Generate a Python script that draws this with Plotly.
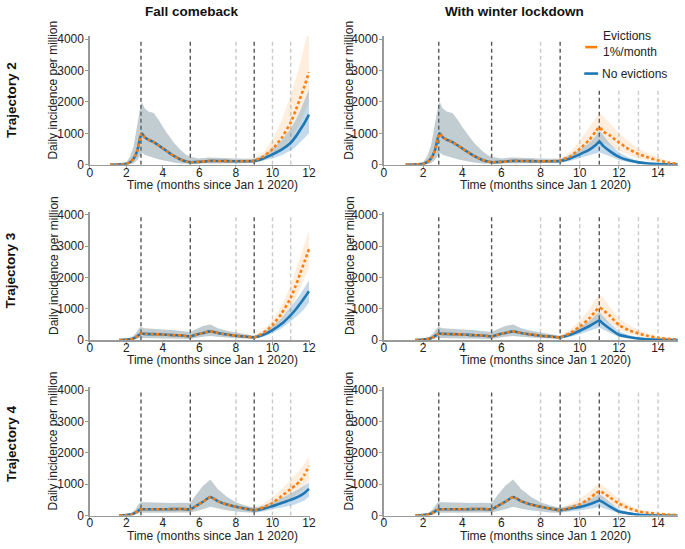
import plotly.graph_objects as go

# ---------------- data ----------------
# shared early part (identical for both scenarios and both eviction settings)
t_early_2 = [1.1, 1.5, 2.0, 2.2, 2.4, 2.6, 2.75, 2.85, 3.0, 3.2, 3.5, 3.8, 4.0, 4.3, 4.6, 5.0, 5.3, 5.5, 6.0, 6.5, 7.0, 7.5, 8.0, 8.5]
traj2_mean = [0, 5, 30, 80, 200, 450, 850, 1000, 880, 800, 720, 600, 520, 400, 280, 160, 100, 80, 90, 120, 120, 115, 110, 110]
traj2_hi = [0, 15, 80, 250, 600, 1300, 1800, 2000, 1800, 1700, 1650, 1400, 1200, 950, 700, 450, 300, 250, 200, 230, 220, 200, 190, 190]
traj2_lo = [0, 0, 5, 15, 50, 150, 300, 380, 320, 280, 220, 170, 140, 100, 70, 40, 30, 30, 40, 50, 50, 50, 50, 50]

t_early_34 = [1.6, 2.0, 2.3, 2.5, 2.7, 2.8, 3.0, 3.5, 4.0, 4.5, 5.0, 5.5, 5.8, 6.2, 6.6, 7.0, 7.5, 8.0, 8.5]
traj3_mean = [0, 15, 40, 90, 170, 210, 200, 190, 180, 160, 150, 120, 170, 230, 280, 230, 180, 140, 115]
traj3_hi = [0, 40, 100, 200, 380, 420, 380, 350, 340, 320, 300, 260, 350, 450, 500, 380, 300, 240, 180]
traj3_lo = [0, 3, 10, 30, 70, 90, 80, 70, 60, 50, 45, 40, 70, 110, 130, 110, 80, 60, 50]
traj4_mean = [0, 15, 40, 90, 170, 200, 200, 200, 200, 205, 210, 200, 300, 440, 590, 460, 350, 280, 220]
traj4_hi = [0, 40, 100, 200, 380, 420, 420, 410, 400, 400, 410, 400, 650, 950, 1150, 850, 600, 420, 320]
traj4_lo = [0, 3, 10, 30, 70, 90, 100, 100, 100, 100, 100, 100, 130, 200, 280, 220, 170, 130, 100]

# "Fall comeback" late part
t_fall = [9.0, 9.5, 10.0, 10.5, 11.0, 11.25, 11.5, 11.75, 12.0]
fall2_blue = [120, 200, 330, 480, 700, 880, 1100, 1330, 1600]
fall2_blue_hi = [200, 300, 500, 780, 1150, 1400, 1700, 2050, 2400]
fall2_blue_lo = [60, 120, 200, 300, 450, 560, 700, 850, 1000]
fall2_orange = [130, 260, 500, 850, 1350, 1700, 2100, 2500, 2950]
fall2_orange_hi = [200, 400, 800, 1400, 2200, 2700, 3200, 3800, 4400]
fall2_orange_lo = [60, 150, 300, 500, 800, 1050, 1300, 1650, 2000]

fall3_blue = [90, 170, 320, 520, 800, 960, 1150, 1350, 1560]
fall3_blue_hi = [140, 250, 450, 700, 1050, 1250, 1450, 1680, 1900]
fall3_blue_lo = [45, 110, 220, 380, 600, 720, 850, 1000, 1200]
fall3_orange = [90, 230, 480, 850, 1350, 1700, 2100, 2500, 2900]
fall3_orange_hi = [140, 320, 650, 1100, 1750, 2200, 2650, 3100, 3500]
fall3_orange_lo = [45, 150, 330, 600, 1000, 1300, 1600, 1950, 2300]

fall4_blue = [170, 220, 300, 400, 500, 560, 630, 720, 850]
fall4_blue_hi = [250, 320, 430, 560, 700, 780, 860, 950, 1050]
fall4_blue_lo = [90, 130, 180, 250, 320, 360, 410, 480, 600]
fall4_orange = [170, 260, 400, 620, 850, 960, 1100, 1300, 1580]
fall4_orange_hi = [250, 380, 580, 850, 1150, 1300, 1450, 1650, 1900]
fall4_orange_lo = [90, 160, 250, 400, 550, 650, 750, 900, 1150]

# "With winter lockdown" late part
t_lock = [9.0, 9.5, 10.0, 10.5, 10.8, 11.0, 11.2, 11.5, 12.0, 12.5, 13.0, 13.5, 14.0, 14.5, 15.0]
lock2_blue = [120, 200, 330, 480, 620, 740, 600, 450, 250, 140, 75, 40, 20, 10, 5]
lock2_blue_hi = [200, 300, 480, 700, 900, 1100, 950, 700, 400, 230, 120, 70, 40, 20, 10]
lock2_blue_lo = [60, 120, 200, 300, 360, 400, 350, 280, 150, 80, 40, 20, 10, 5, 2]
lock2_orange = [130, 260, 500, 800, 1050, 1200, 1060, 950, 710, 500, 340, 230, 140, 70, 25]
lock2_orange_hi = [200, 400, 750, 1200, 1500, 1650, 1550, 1350, 1000, 750, 520, 360, 230, 120, 50]
lock2_orange_lo = [60, 150, 300, 450, 600, 750, 700, 620, 450, 320, 200, 130, 80, 35, 10]

lock3_blue = [90, 170, 300, 450, 560, 630, 520, 380, 170, 100, 50, 30, 15, 8, 4]
lock3_blue_hi = [140, 250, 420, 620, 780, 900, 760, 560, 280, 160, 90, 50, 28, 14, 7]
lock3_blue_lo = [45, 100, 190, 290, 360, 400, 330, 240, 100, 55, 28, 14, 6, 3, 1]
lock3_orange = [90, 220, 430, 700, 920, 1040, 960, 800, 480, 320, 210, 130, 75, 40, 20]
lock3_orange_hi = [140, 330, 620, 1000, 1300, 1450, 1350, 1100, 700, 480, 320, 200, 120, 60, 30]
lock3_orange_lo = [45, 140, 280, 450, 600, 700, 640, 540, 320, 210, 130, 80, 45, 22, 10]

lock4_blue = [170, 220, 270, 360, 430, 480, 420, 300, 130, 70, 25, 12, 6, 3, 2]
lock4_blue_hi = [250, 320, 390, 520, 620, 680, 600, 440, 200, 110, 45, 22, 10, 5, 3]
lock4_blue_lo = [90, 130, 160, 210, 250, 280, 240, 170, 70, 35, 12, 6, 3, 1, 1]
lock4_orange = [170, 250, 360, 540, 700, 780, 720, 600, 380, 240, 130, 85, 55, 30, 15]
lock4_orange_hi = [250, 360, 520, 770, 950, 1020, 950, 800, 520, 340, 200, 130, 80, 45, 20]
lock4_orange_lo = [90, 150, 220, 330, 430, 500, 460, 380, 240, 150, 80, 50, 30, 15, 6]

# event lines (months)
fall_dark_lines = [2.8, 5.5, 9]
fall_light_lines = [8, 10, 11]
lock_dark_lines = [2.8, 5.5, 9, 11]
lock_light_lines = [8, 10, 12, 13, 14]

col_titles = ["Fall comeback", "With winter lockdown"]
row_titles = ["Trajectory 2", "Trajectory 3", "Trajectory 4"]
y_ticks = [0, 1000, 2000, 3000, 4000]
x_title = "Time (months since Jan 1 2020)"
y_title = "Daily incidence per million"
legend_labels = ["Evictions<br>1%/month", "No evictions"]

# ---------------- figure ----------------
W, H = 685, 549
FONT = "Liberation Sans, Arial, sans-serif"
BLUE = "#1f77b4"
ORANGE = "#ff7f0e"
BLUE_FILL = "rgba(31,119,180,0.27)"
ORANGE_FILL = "rgba(255,127,14,0.14)"
AX = "#9a9a9a"
DARK = "#555555"
LIGHT = "#c9c9c9"


def px(x):
    return x / W


def py(y):
    return 1 - y / H


early = [
    (t_early_2, traj2_mean, traj2_hi, traj2_lo),
    (t_early_34, traj3_mean, traj3_hi, traj3_lo),
    (t_early_34, traj4_mean, traj4_hi, traj4_lo),
]
late = {
    (0, 0): (t_fall, fall2_blue, fall2_blue_hi, fall2_blue_lo, fall2_orange, fall2_orange_hi, fall2_orange_lo),
    (1, 0): (t_fall, fall3_blue, fall3_blue_hi, fall3_blue_lo, fall3_orange, fall3_orange_hi, fall3_orange_lo),
    (2, 0): (t_fall, fall4_blue, fall4_blue_hi, fall4_blue_lo, fall4_orange, fall4_orange_hi, fall4_orange_lo),
    (0, 1): (t_lock, lock2_blue, lock2_blue_hi, lock2_blue_lo, lock2_orange, lock2_orange_hi, lock2_orange_lo),
    (1, 1): (t_lock, lock3_blue, lock3_blue_hi, lock3_blue_lo, lock3_orange, lock3_orange_hi, lock3_orange_lo),
    (2, 1): (t_lock, lock4_blue, lock4_blue_hi, lock4_blue_lo, lock4_orange, lock4_orange_hi, lock4_orange_lo),
}

x_dom = {0: [px(88), px(311)], 1: [px(386), px(684)]}
x_rng = {0: [0, 12.05], 1: [0, 15.02]}
y_zero = [164, 343, 522]
Y_TOP = 4100
PX_PER_UNIT = 128 / 4000

fig = go.Figure()
shapes = []
annotations = []
layout_axes = {}

for r in range(3):
    te, me, he, le = early[r]
    for c in range(2):
        k = r * 2 + c + 1
        xa, ya = f"x{k}", f"y{k}"
        tl, b, bh, bl, o, oh, ol = late[(r, c)]
        t = te + tl
        blue = me + b
        blue_hi = he + bh
        blue_lo = le + bl
        orng = me + o
        orng_hi = he + oh
        orng_lo = le + ol

        fig.add_trace(go.Scatter(x=t + t[::-1], y=orng_hi + orng_lo[::-1], fill="toself",
                                 fillcolor=ORANGE_FILL, line=dict(width=0), mode="lines",
                                 hoverinfo="skip", showlegend=False, xaxis=xa, yaxis=ya))
        fig.add_trace(go.Scatter(x=t + t[::-1], y=blue_hi + blue_lo[::-1], fill="toself",
                                 fillcolor=BLUE_FILL, line=dict(width=0), mode="lines",
                                 hoverinfo="skip", showlegend=False, xaxis=xa, yaxis=ya))
        fig.add_trace(go.Scatter(x=t, y=blue, mode="lines", name="No evictions",
                                 line=dict(color=BLUE, width=2.6, shape="spline", smoothing=0.5),
                                 showlegend=False, xaxis=xa, yaxis=ya))
        fig.add_trace(go.Scatter(x=t, y=orng, mode="lines", name="Evictions 1%/month",
                                 line=dict(color=ORANGE, width=2.6, dash="3px,2.5px", shape="spline", smoothing=0.5),
                                 showlegend=False, xaxis=xa, yaxis=ya))

        y0 = y_zero[r]
        y_top_px = y0 - Y_TOP * PX_PER_UNIT
        axis_x = "xaxis" if k == 1 else f"xaxis{k}"
        axis_y = "yaxis" if k == 1 else f"yaxis{k}"
        layout_axes[axis_x] = dict(
            domain=x_dom[c], range=x_rng[c], anchor=ya, showline=True, linecolor=AX, linewidth=1.5,
            ticks="outside", ticklen=3, tickcolor=AX, tickwidth=1, tick0=0, dtick=2,
            ticklabelstandoff=-7,
            showgrid=False, zeroline=False, tickfont=dict(size=12, color="#222", family=FONT),
        )
        layout_axes[axis_y] = dict(
            domain=[py(y0), py(y_top_px)], range=[0, Y_TOP], anchor=xa, showline=True, linecolor=AX,
            linewidth=1.5, ticks="outside", ticklen=3, tickcolor=AX, tickwidth=1, tickvals=y_ticks,
            ticklabelstandoff=-1,
            showgrid=False, zeroline=False, tickfont=dict(size=12, color="#222", family=FONT),
        )

        dark = fall_dark_lines if c == 0 else lock_dark_lines
        light = fall_light_lines if c == 0 else lock_light_lines
        for v, colr in [(v, DARK) for v in dark] + [(v, LIGHT) for v in light]:
            top = 4000
            if r == 0 and c == 1 and v >= 10:
                top = 2450
            shapes.append(dict(type="line", xref=xa, yref=ya, x0=v, x1=v, y0=0, y1=top,
                               line=dict(color=colr, width=1.4, dash="4px,3px"), layer="below"))

        # axis titles
        x_center = 212 if c == 0 else 550
        annotations.append(dict(text=x_title, x=px(x_center), y=py(y0 + 20.5), xref="paper", yref="paper",
                                showarrow=False, xanchor="center", yanchor="middle",
                                font=dict(size=12, color="#222", family=FONT)))
        y_x = 51 if c == 0 else 351
        annotations.append(dict(text=y_title, x=px(y_x), y=py(y0 - 76), xref="paper", yref="paper",
                                showarrow=False, textangle=-90, xanchor="center", yanchor="middle",
                                font=dict(size=12, color="#222", family=FONT)))

# column titles
for c, (title, xc) in enumerate(zip(col_titles, [192, 518])):
    annotations.append(dict(text=f"<b>{title}</b>", x=px(xc), y=py(8), xref="paper", yref="paper",
                            showarrow=False, xanchor="center", yanchor="middle",
                            font=dict(size=13.5, color="#111", family=FONT)))
# row titles
for title, yc in zip(row_titles, [98, 272, 449]):
    annotations.append(dict(text=f"<b>{title}</b>", x=px(8), y=py(yc), xref="paper", yref="paper",
                            showarrow=False, textangle=-90, xanchor="center", yanchor="middle",
                            font=dict(size=13.5, color="#111", family=FONT)))

# legend (top-right panel)
shapes.append(dict(type="line", xref="paper", yref="paper", x0=px(590), x1=px(602), y0=py(44), y1=py(44),
                   line=dict(color=ORANGE, width=2.6)))
shapes.append(dict(type="line", xref="paper", yref="paper", x0=px(589), x1=px(603), y0=py(71), y1=py(71),
                   line=dict(color=BLUE, width=2.6)))
annotations.append(dict(text=legend_labels[0], x=px(606), y=py(40.5), xref="paper", yref="paper",
                        showarrow=False, xanchor="left", yanchor="middle", align="left",
                        font=dict(size=12, color="#222", family=FONT)))
annotations.append(dict(text=legend_labels[1], x=px(605), y=py(71), xref="paper", yref="paper",
                        showarrow=False, xanchor="left", yanchor="middle", align="left",
                        font=dict(size=12, color="#222", family=FONT)))

fig.update_layout(
    width=W, height=H, autosize=False,
    margin=dict(l=0, r=0, t=0, b=0),
    paper_bgcolor="white", plot_bgcolor="white",
    font=dict(family=FONT, size=12, color="#222"),
    shapes=shapes, annotations=annotations, showlegend=False,
    hovermode=False,
    **layout_axes,
)

fig.write_html(
    "out.html",
    config={"displayModeBar": False, "staticPlot": True},
    post_script="document.body.style.margin='0px';document.body.style.overflow='hidden';",
)
